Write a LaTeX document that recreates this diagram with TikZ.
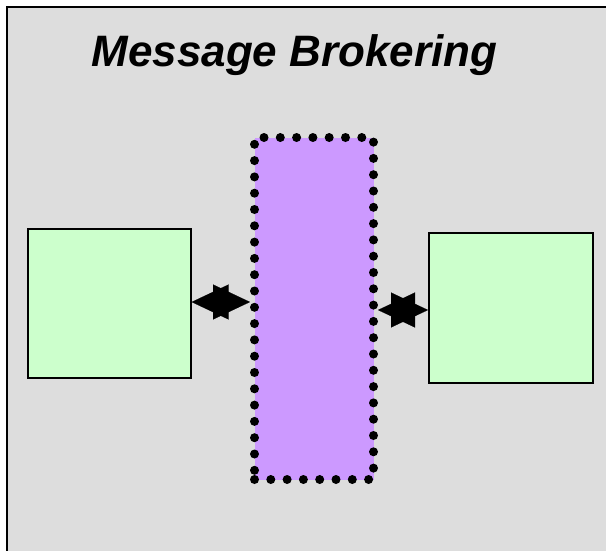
\documentclass[tikz,border=0pt]{standalone}
\usepackage{fontspec}
\setmainfont{Liberation Sans}
\usetikzlibrary{arrows.meta}
\definecolor{bggray}{HTML}{DDDDDD}
\definecolor{appgreen}{HTML}{CCFFCC}
\definecolor{brokerpurple}{HTML}{CC99FF}
\tikzset{
  appbox/.style={draw=black, line width=1.6pt, fill=appgreen, minimum width=163pt, minimum height=149pt, inner sep=0pt, anchor=north west},
  brokerbox/.style={fill=brokerpurple, draw=black, line width=9pt, line cap=round, dash pattern=on 0pt off 16.3pt, minimum width=119pt, minimum height=342pt, inner sep=0pt, anchor=north west},
  link/.style={line width=0.1pt, {Triangle[length=37pt,width=35pt]}-{Triangle[length=37pt,width=35pt]}}
}
\begin{document}
\begin{tikzpicture}[x=1pt,y=-1pt]
\useasboundingbox (0,0) rectangle (606,550);
\begin{scope}
\clip (0,0) rectangle (606,550);
\draw[fill=bggray, line width=1.6pt] (7,7) rectangle (620,570);
\end{scope}
\node[anchor=base] (title) at (294.5,66) {\fontsize{44}{50}\selectfont\bfseries\itshape Message Brokering};
\node[appbox] (left) at (27,228) {};
\node[appbox, minimum width=164pt, minimum height=150pt] (right) at (428,232) {};
\node[brokerbox] (broker) at (250,133) {};
\draw[link] (left.east |- 0,302) -- (broker.west |- 0,302);
\draw[link] (broker.east |- 0,310) -- (right.west |- 0,310);
\end{tikzpicture}
\end{document}
